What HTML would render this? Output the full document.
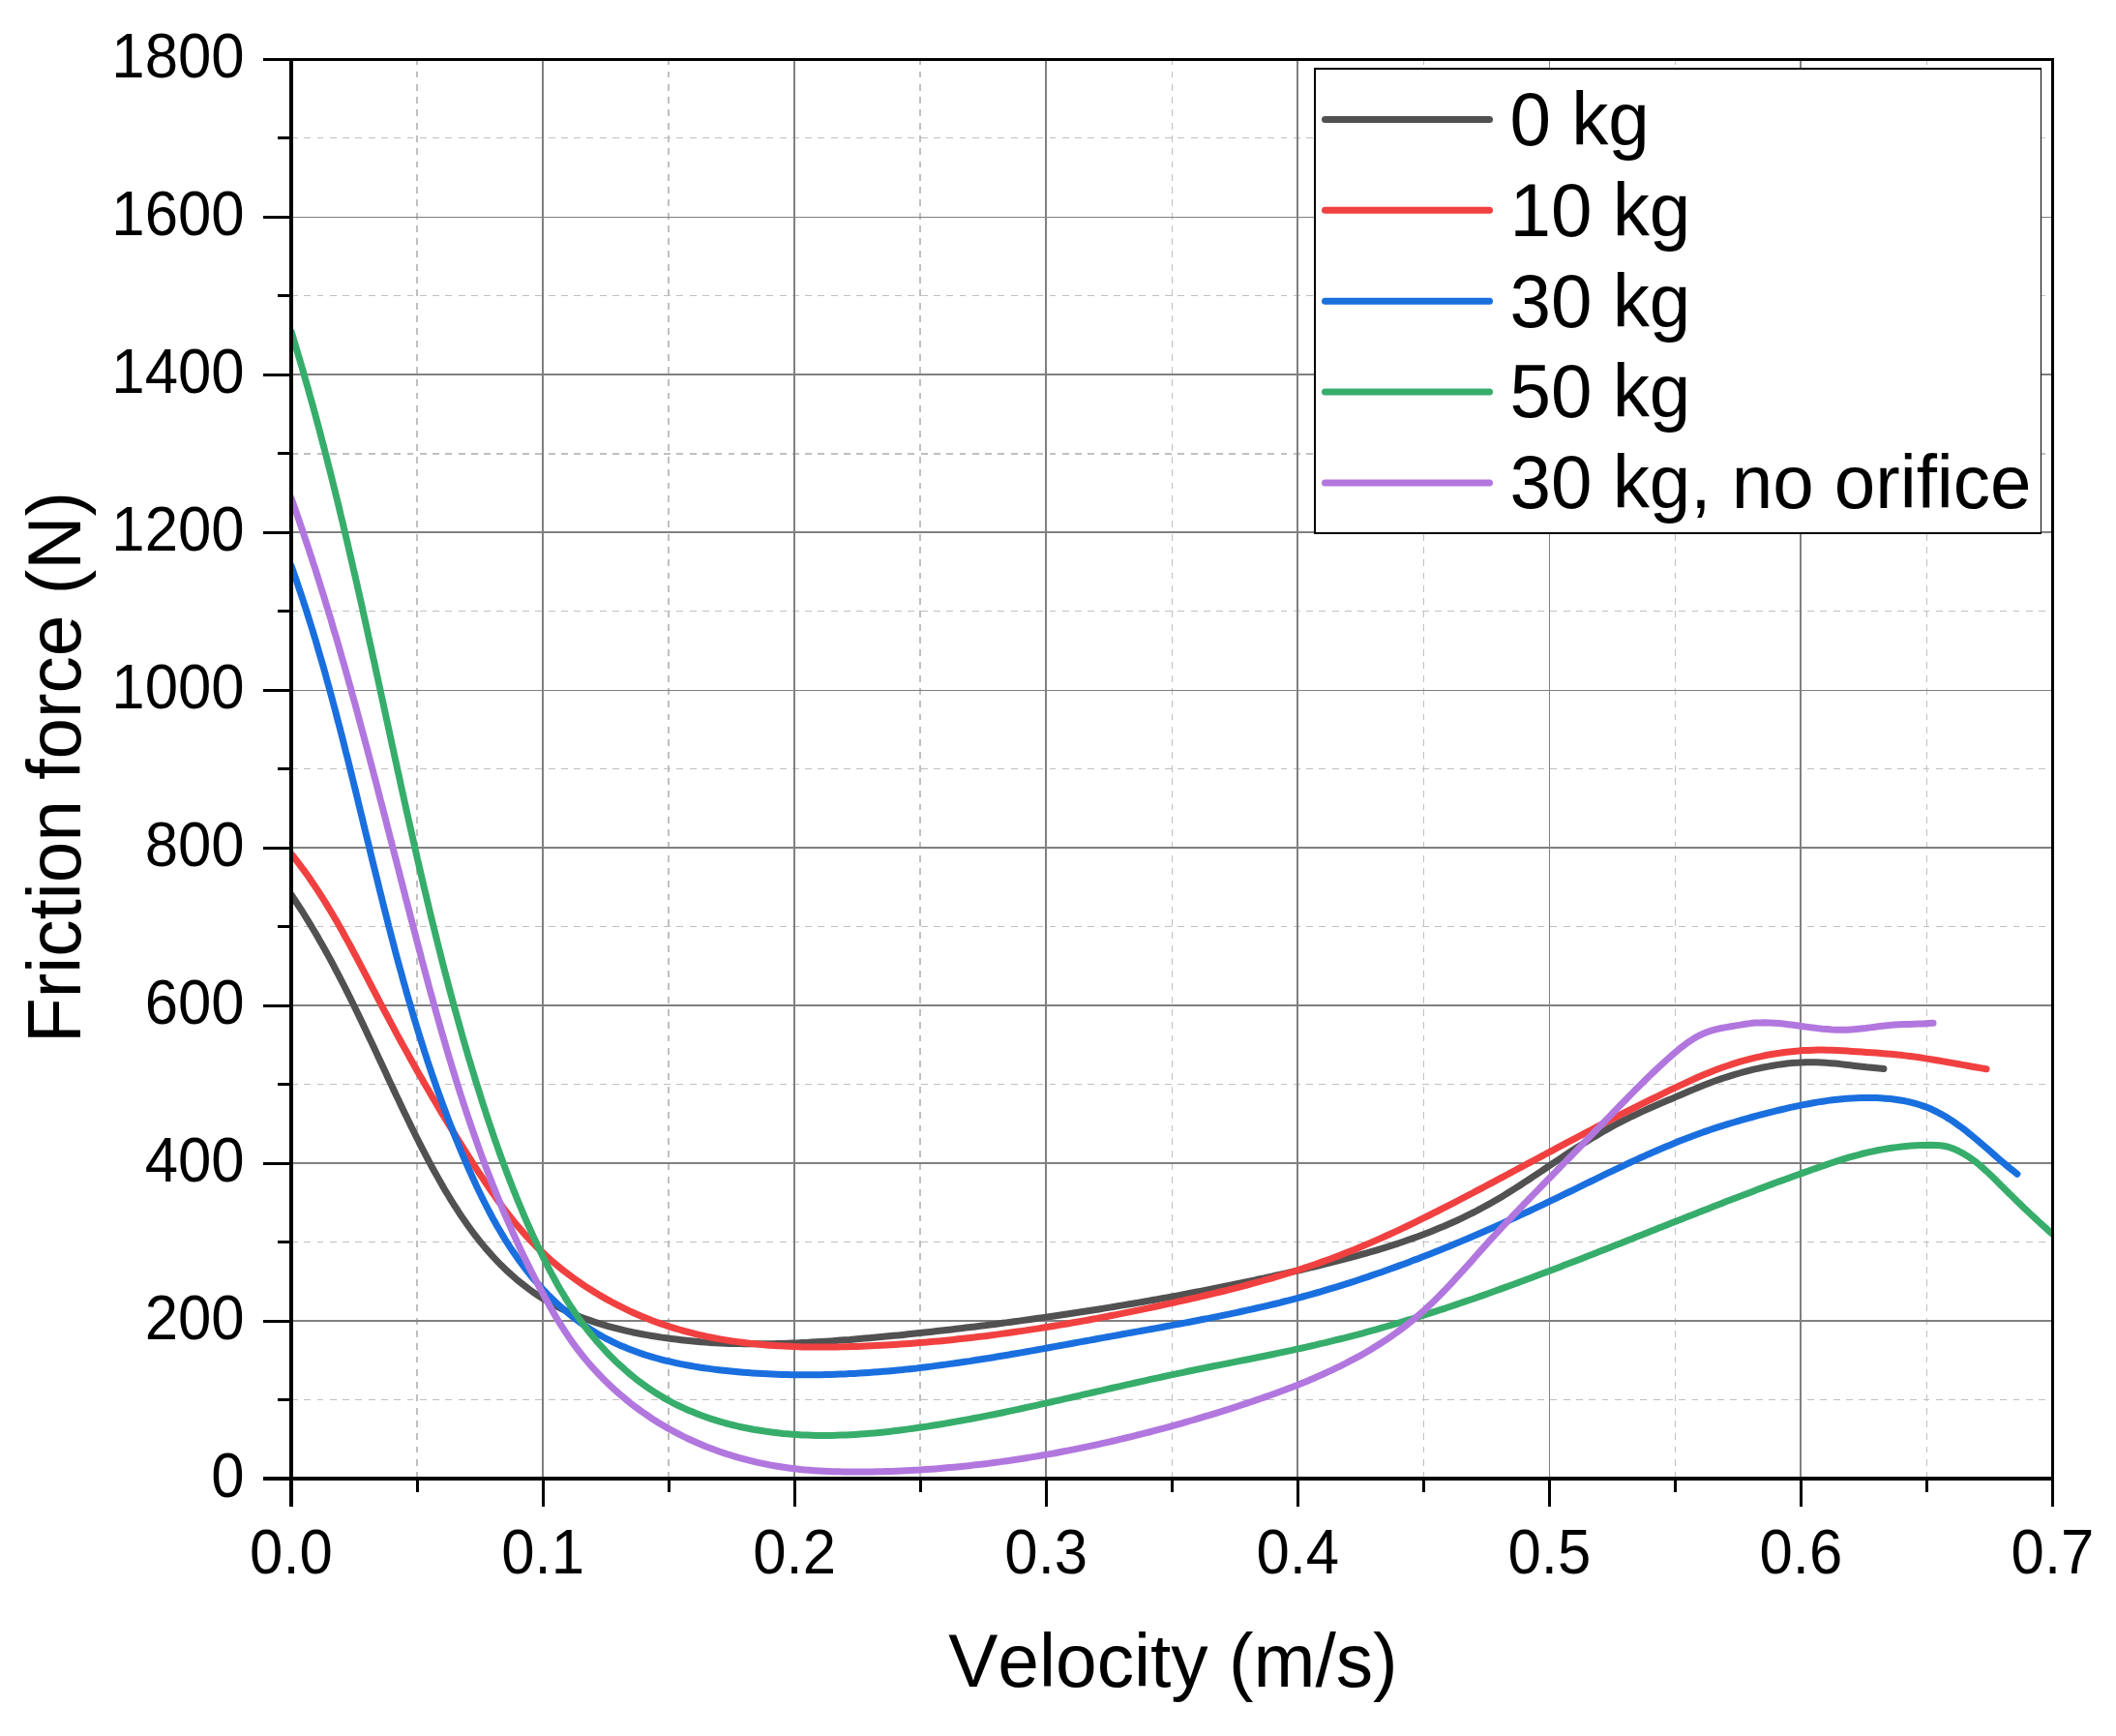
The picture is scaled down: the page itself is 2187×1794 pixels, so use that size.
<!DOCTYPE html>
<html lang="en"><head><meta charset="utf-8"><title>Friction force vs velocity</title>
<style>html,body{margin:0;padding:0;background:#fff;}body{width:2187px;height:1794px;overflow:hidden;}svg{display:block;}text{font-family:"Liberation Sans", sans-serif;fill:#000;font-kerning:none;font-variant-ligatures:none;}</style></head><body>
<svg width="2187" height="1794" viewBox="0 0 2187 1794">
<rect x="0" y="0" width="2187" height="1794" fill="#fff"/>
<g shape-rendering="crispEdges">
<line x1="431.0" y1="1528.0" x2="431.0" y2="61.5" stroke="#c0c0c0" stroke-width="2" stroke-dasharray="6.9 6.38"/>
<line x1="691.0" y1="1528.0" x2="691.0" y2="61.5" stroke="#c0c0c0" stroke-width="2" stroke-dasharray="6.9 6.38"/>
<line x1="951.0" y1="1528.0" x2="951.0" y2="61.5" stroke="#c0c0c0" stroke-width="2" stroke-dasharray="6.9 6.38"/>
<line x1="1211.5" y1="1528.0" x2="1211.5" y2="61.5" stroke="#c0c0c0" stroke-width="1" stroke-dasharray="6.9 6.38"/>
<line x1="1471.5" y1="1528.0" x2="1471.5" y2="61.5" stroke="#c0c0c0" stroke-width="1" stroke-dasharray="6.9 6.38"/>
<line x1="1731.5" y1="1528.0" x2="1731.5" y2="61.5" stroke="#c0c0c0" stroke-width="1" stroke-dasharray="6.9 6.38"/>
<line x1="1991.5" y1="1528.0" x2="1991.5" y2="61.5" stroke="#c0c0c0" stroke-width="1" stroke-dasharray="6.9 6.38"/>
<line x1="301.0" y1="1446.5" x2="2121.5" y2="1446.5" stroke="#c0c0c0" stroke-width="1" stroke-dasharray="6.9 6.38"/>
<line x1="301.0" y1="1283.5" x2="2121.5" y2="1283.5" stroke="#c0c0c0" stroke-width="1" stroke-dasharray="6.9 6.38"/>
<line x1="301.0" y1="1120.5" x2="2121.5" y2="1120.5" stroke="#c0c0c0" stroke-width="1" stroke-dasharray="6.9 6.38"/>
<line x1="301.0" y1="957.5" x2="2121.5" y2="957.5" stroke="#c0c0c0" stroke-width="1" stroke-dasharray="6.9 6.38"/>
<line x1="301.0" y1="794.5" x2="2121.5" y2="794.5" stroke="#c0c0c0" stroke-width="1" stroke-dasharray="6.9 6.38"/>
<line x1="301.0" y1="631.5" x2="2121.5" y2="631.5" stroke="#c0c0c0" stroke-width="1" stroke-dasharray="6.9 6.38"/>
<line x1="301.0" y1="469.0" x2="2121.5" y2="469.0" stroke="#c0c0c0" stroke-width="2" stroke-dasharray="6.9 6.38"/>
<line x1="301.0" y1="305.5" x2="2121.5" y2="305.5" stroke="#c0c0c0" stroke-width="1" stroke-dasharray="6.9 6.38"/>
<line x1="301.0" y1="142.5" x2="2121.5" y2="142.5" stroke="#c0c0c0" stroke-width="1" stroke-dasharray="6.9 6.38"/>
<line x1="561.0" y1="61.5" x2="561.0" y2="1528.0" stroke="#808080" stroke-width="2"/>
<line x1="821.0" y1="61.5" x2="821.0" y2="1528.0" stroke="#808080" stroke-width="2"/>
<line x1="1081.0" y1="61.5" x2="1081.0" y2="1528.0" stroke="#808080" stroke-width="2"/>
<line x1="1341.0" y1="61.5" x2="1341.0" y2="1528.0" stroke="#808080" stroke-width="2"/>
<line x1="1601.5" y1="61.5" x2="1601.5" y2="1528.0" stroke="#808080" stroke-width="1"/>
<line x1="1861.0" y1="61.5" x2="1861.0" y2="1528.0" stroke="#808080" stroke-width="2"/>
<line x1="301.0" y1="1365.0" x2="2121.5" y2="1365.0" stroke="#808080" stroke-width="2"/>
<line x1="301.0" y1="1202.0" x2="2121.5" y2="1202.0" stroke="#808080" stroke-width="2"/>
<line x1="301.0" y1="1039.0" x2="2121.5" y2="1039.0" stroke="#808080" stroke-width="2"/>
<line x1="301.0" y1="876.0" x2="2121.5" y2="876.0" stroke="#808080" stroke-width="2"/>
<line x1="301.0" y1="713.5" x2="2121.5" y2="713.5" stroke="#808080" stroke-width="1"/>
<line x1="301.0" y1="550.0" x2="2121.5" y2="550.0" stroke="#808080" stroke-width="2"/>
<line x1="301.0" y1="387.0" x2="2121.5" y2="387.0" stroke="#808080" stroke-width="2"/>
<line x1="301.0" y1="224.5" x2="2121.5" y2="224.5" stroke="#808080" stroke-width="1"/>
</g>
<clipPath id="plotclip"><rect x="301.0" y="61.5" width="1822.0" height="1466.5"/></clipPath>
<g clip-path="url(#plotclip)" fill="none" stroke-width="7" stroke-linecap="round" stroke-linejoin="round">
<path d="M301.0,924.5L303.8,928.7L306.6,933.0L309.4,937.2L312.2,941.5L314.8,945.8L317.5,950.1L320.1,954.4L322.7,958.7L325.3,963.0L327.8,967.3L330.3,971.7L332.8,976.0L335.3,980.4L337.7,984.8L340.1,989.1L342.5,993.5L344.8,997.9L347.1,1002.3L349.4,1006.7L351.7,1011.1L354.0,1015.5L356.3,1020.0L358.5,1024.4L360.7,1028.8L362.9,1033.3L365.1,1037.7L367.3,1042.2L369.4,1046.6L371.6,1051.1L373.7,1055.6L375.9,1060.1L378.0,1064.5L380.1,1069.0L382.2,1073.5L384.4,1078.0L386.5,1082.5L388.6,1087.0L390.7,1091.6L392.8,1096.1L394.9,1100.6L397.0,1105.1L399.1,1109.6L401.2,1114.2L403.3,1118.7L405.5,1123.2L407.6,1127.8L409.7,1132.3L411.9,1136.8L414.1,1141.4L416.2,1145.9L418.4,1150.5L420.6,1155.0L422.8,1159.6L425.0,1164.1L427.3,1168.7L429.5,1173.2L431.8,1177.8L434.1,1182.3L436.4,1186.8L438.8,1191.4L441.1,1195.9L443.5,1200.4L445.9,1205.0L448.4,1209.4L450.9,1213.9L453.4,1218.4L455.9,1222.8L458.4,1227.3L461.0,1231.7L463.7,1236.0L466.3,1240.4L469.0,1244.7L471.8,1248.9L474.5,1253.2L477.3,1257.4L480.2,1261.6L483.1,1265.7L486.0,1269.7L489.0,1273.8L492.1,1277.8L495.1,1281.7L498.3,1285.6L501.4,1289.4L504.7,1293.1L507.9,1296.8L511.3,1300.5L514.7,1304.1L518.1,1307.6L521.6,1311.0L525.2,1314.4L528.8,1317.7L532.5,1320.9L536.2,1324.1L540.0,1327.1L543.9,1330.1L547.8,1333.0L551.8,1335.8L555.8,1338.6L560.0,1341.2L564.2,1343.7L568.4,1346.2L572.8,1348.6L577.2,1350.8L581.6,1353.0L586.1,1355.1L590.7,1357.2L595.3,1359.1L600.0,1361.0L604.7,1362.7L609.4,1364.4L614.2,1366.1L619.0,1367.6L623.9,1369.1L628.8,1370.6L633.7,1371.9L638.7,1373.2L643.6,1374.4L648.6,1375.6L653.6,1376.7L658.7,1377.7L663.7,1378.7L668.7,1379.6L673.8,1380.5L678.8,1381.3L683.9,1382.1L688.9,1382.8L694.0,1383.5L699.0,1384.1L704.1,1384.7L709.1,1385.3L714.1,1385.8L719.1,1386.2L724.2,1386.7L729.2,1387.0L734.2,1387.4L739.2,1387.7L744.2,1387.9L749.2,1388.2L754.1,1388.4L759.1,1388.5L764.1,1388.6L769.1,1388.7L774.1,1388.8L779.0,1388.8L784.0,1388.8L789.0,1388.8L794.0,1388.7L798.9,1388.7L803.9,1388.5L808.9,1388.4L813.8,1388.2L818.8,1388.1L823.8,1387.9L828.7,1387.6L833.7,1387.4L838.7,1387.1L843.6,1386.8L848.6,1386.5L853.5,1386.2L858.5,1385.9L863.5,1385.5L868.5,1385.1L873.4,1384.7L878.4,1384.4L883.4,1383.9L888.4,1383.5L893.4,1383.1L898.3,1382.7L903.3,1382.2L908.3,1381.8L913.3,1381.3L918.3,1380.8L923.3,1380.3L928.3,1379.9L933.3,1379.4L938.3,1378.8L943.3,1378.3L948.3,1377.8L953.3,1377.3L958.3,1376.7L963.3,1376.2L968.3,1375.6L973.3,1375.1L978.3,1374.5L983.3,1373.9L988.3,1373.3L993.3,1372.7L998.3,1372.1L1003.3,1371.5L1008.3,1370.9L1013.3,1370.3L1018.2,1369.7L1023.2,1369.0L1028.2,1368.4L1033.2,1367.7L1038.2,1367.1L1043.1,1366.4L1048.1,1365.8L1053.1,1365.1L1058.0,1364.4L1063.0,1363.7L1068.0,1363.0L1072.9,1362.3L1077.9,1361.6L1082.9,1360.9L1087.8,1360.2L1092.8,1359.5L1097.7,1358.8L1102.7,1358.0L1107.6,1357.3L1112.6,1356.5L1117.5,1355.8L1122.5,1355.0L1127.4,1354.2L1132.3,1353.5L1137.3,1352.7L1142.2,1351.9L1147.1,1351.1L1152.1,1350.3L1157.0,1349.4L1161.9,1348.6L1166.9,1347.8L1171.8,1347.0L1176.7,1346.1L1181.7,1345.3L1186.6,1344.4L1191.5,1343.5L1196.4,1342.6L1201.3,1341.8L1206.3,1340.9L1211.2,1340.0L1216.1,1339.1L1221.0,1338.1L1225.9,1337.2L1230.8,1336.3L1235.8,1335.3L1240.7,1334.4L1245.6,1333.4L1250.5,1332.5L1255.4,1331.5L1260.3,1330.5L1265.2,1329.5L1270.1,1328.5L1275.0,1327.5L1279.9,1326.5L1284.8,1325.5L1289.7,1324.4L1294.6,1323.4L1299.5,1322.3L1304.5,1321.3L1309.4,1320.2L1314.3,1319.1L1319.2,1318.0L1324.1,1316.9L1329.0,1315.8L1333.9,1314.7L1338.8,1313.6L1343.7,1312.5L1348.6,1311.3L1353.5,1310.2L1358.4,1309.0L1363.2,1307.8L1368.1,1306.6L1373.0,1305.4L1377.9,1304.2L1382.8,1302.9L1387.7,1301.7L1392.5,1300.4L1397.4,1299.1L1402.2,1297.8L1407.1,1296.4L1411.9,1295.1L1416.8,1293.7L1421.6,1292.3L1426.4,1290.8L1431.2,1289.3L1436.0,1287.8L1440.7,1286.3L1445.5,1284.8L1450.2,1283.2L1455.0,1281.5L1459.7,1279.9L1464.4,1278.2L1469.1,1276.4L1473.7,1274.7L1478.4,1272.9L1483.0,1271.0L1487.7,1269.1L1492.3,1267.2L1496.8,1265.2L1501.4,1263.2L1505.9,1261.2L1510.4,1259.1L1514.9,1256.9L1519.4,1254.7L1523.9,1252.5L1528.3,1250.2L1532.7,1247.8L1537.1,1245.4L1541.4,1243.0L1545.7,1240.5L1550.1,1237.9L1554.3,1235.4L1558.6,1232.7L1562.9,1230.1L1567.1,1227.4L1571.3,1224.7L1575.5,1221.9L1579.7,1219.2L1583.9,1216.4L1588.1,1213.6L1592.3,1210.8L1596.5,1208.0L1600.7,1205.2L1604.8,1202.4L1609.0,1199.6L1613.2,1196.8L1617.4,1194.0L1621.6,1191.3L1625.8,1188.5L1630.0,1185.8L1634.3,1183.1L1638.5,1180.4L1642.8,1177.8L1647.1,1175.1L1651.4,1172.6L1655.7,1170.0L1660.0,1167.6L1664.4,1165.1L1668.8,1162.7L1673.2,1160.4L1677.7,1158.1L1682.2,1155.9L1686.6,1153.7L1691.2,1151.6L1695.7,1149.4L1700.2,1147.4L1704.8,1145.3L1709.4,1143.3L1714.0,1141.3L1718.6,1139.3L1723.2,1137.3L1727.8,1135.4L1732.4,1133.4L1737.0,1131.5L1741.6,1129.5L1746.2,1127.6L1750.9,1125.6L1755.5,1123.7L1760.1,1121.8L1764.8,1120.0L1769.4,1118.2L1774.1,1116.5L1778.9,1114.9L1783.6,1113.3L1788.4,1111.8L1793.1,1110.4L1798.0,1109.0L1802.8,1107.7L1807.7,1106.4L1812.5,1105.2L1817.4,1104.1L1822.4,1103.0L1827.3,1102.1L1832.2,1101.2L1837.2,1100.4L1842.2,1099.7L1847.2,1099.1L1852.2,1098.6L1857.1,1098.2L1862.1,1098.0L1867.1,1097.8L1872.1,1097.7L1877.1,1097.8L1882.1,1098.0L1887.1,1098.3L1892.1,1098.7L1897.1,1099.1L1902.1,1099.6L1907.0,1100.2L1912.0,1100.8L1917.0,1101.4L1922.0,1102.0L1927.0,1102.5L1931.9,1103.1L1936.9,1103.6L1941.9,1104.0L1946.9,1104.4" stroke="#515151"/>
<path d="M301.0,882.4L304.2,886.3L307.3,890.3L310.3,894.3L313.3,898.4L316.3,902.4L319.2,906.5L322.0,910.7L324.8,914.8L327.6,919.0L330.3,923.2L333.0,927.4L335.7,931.6L338.3,935.9L340.9,940.2L343.5,944.5L346.0,948.8L348.5,953.1L351.0,957.4L353.5,961.8L355.9,966.2L358.3,970.6L360.7,974.9L363.1,979.3L365.5,983.8L367.8,988.2L370.2,992.6L372.5,997.0L374.8,1001.5L377.1,1005.9L379.5,1010.4L381.8,1014.8L384.1,1019.3L386.4,1023.7L388.7,1028.1L391.0,1032.6L393.3,1037.0L395.7,1041.5L398.0,1045.9L400.4,1050.3L402.7,1054.7L405.1,1059.1L407.5,1063.6L409.8,1068.0L412.2,1072.4L414.6,1076.8L417.0,1081.1L419.5,1085.5L421.9,1089.9L424.3,1094.3L426.8,1098.7L429.2,1103.0L431.7,1107.4L434.2,1111.7L436.7,1116.1L439.2,1120.4L441.7,1124.8L444.2,1129.1L446.7,1133.4L449.3,1137.7L451.8,1142.1L454.4,1146.4L456.9,1150.7L459.5,1155.0L462.1,1159.3L464.7,1163.5L467.3,1167.8L469.9,1172.1L472.6,1176.4L475.2,1180.6L477.9,1184.9L480.5,1189.1L483.2,1193.4L485.9,1197.6L488.6,1201.9L491.3,1206.1L494.0,1210.3L496.8,1214.5L499.6,1218.7L502.3,1222.9L505.2,1227.0L508.0,1231.2L510.9,1235.3L513.8,1239.4L516.7,1243.4L519.7,1247.5L522.7,1251.5L525.7,1255.4L528.8,1259.4L531.9,1263.3L535.1,1267.1L538.4,1270.9L541.7,1274.7L545.0,1278.4L548.4,1282.0L551.9,1285.6L555.4,1289.2L559.0,1292.7L562.7,1296.1L566.4,1299.5L570.1,1302.8L574.0,1306.1L577.8,1309.3L581.7,1312.4L585.7,1315.5L589.7,1318.5L593.8,1321.5L597.9,1324.4L602.1,1327.3L606.3,1330.1L610.5,1332.8L614.8,1335.5L619.1,1338.1L623.5,1340.6L627.9,1343.1L632.3,1345.5L636.8,1347.9L641.3,1350.2L645.8,1352.4L650.3,1354.6L654.9,1356.7L659.5,1358.7L664.2,1360.7L668.8,1362.6L673.5,1364.4L678.2,1366.2L682.9,1367.9L687.7,1369.5L692.4,1371.1L697.2,1372.6L702.0,1374.0L706.8,1375.4L711.6,1376.7L716.4,1377.9L721.2,1379.1L726.1,1380.2L731.0,1381.3L735.8,1382.3L740.7,1383.2L745.6,1384.1L750.5,1384.9L755.4,1385.7L760.4,1386.4L765.3,1387.1L770.3,1387.7L775.2,1388.3L780.2,1388.8L785.1,1389.3L790.1,1389.8L795.1,1390.2L800.1,1390.5L805.1,1390.8L810.1,1391.1L815.1,1391.3L820.1,1391.6L825.1,1391.7L830.1,1391.9L835.2,1392.0L840.2,1392.0L845.2,1392.1L850.2,1392.1L855.2,1392.0L860.3,1392.0L865.3,1391.9L870.3,1391.8L875.3,1391.7L880.4,1391.6L885.4,1391.4L890.4,1391.2L895.4,1391.0L900.4,1390.8L905.5,1390.6L910.5,1390.3L915.5,1390.0L920.5,1389.7L925.5,1389.4L930.5,1389.1L935.5,1388.8L940.5,1388.4L945.5,1388.0L950.5,1387.6L955.5,1387.2L960.5,1386.8L965.5,1386.3L970.4,1385.9L975.4,1385.4L980.4,1384.9L985.4,1384.4L990.4,1383.8L995.3,1383.3L1000.3,1382.7L1005.3,1382.2L1010.3,1381.6L1015.2,1381.0L1020.2,1380.4L1025.2,1379.7L1030.1,1379.1L1035.1,1378.4L1040.0,1377.7L1045.0,1377.0L1050.0,1376.3L1054.9,1375.6L1059.9,1374.9L1064.8,1374.1L1069.8,1373.4L1074.7,1372.6L1079.6,1371.8L1084.6,1371.0L1089.5,1370.2L1094.5,1369.4L1099.4,1368.5L1104.3,1367.7L1109.3,1366.8L1114.2,1366.0L1119.1,1365.1L1124.1,1364.2L1129.0,1363.3L1133.9,1362.4L1138.8,1361.4L1143.8,1360.5L1148.7,1359.5L1153.6,1358.6L1158.5,1357.6L1163.4,1356.6L1168.3,1355.6L1173.3,1354.6L1178.2,1353.6L1183.1,1352.6L1188.0,1351.6L1192.9,1350.5L1197.8,1349.5L1202.7,1348.4L1207.6,1347.4L1212.5,1346.3L1217.4,1345.2L1222.3,1344.1L1227.2,1343.0L1232.1,1341.9L1236.9,1340.8L1241.8,1339.6L1246.7,1338.5L1251.6,1337.3L1256.5,1336.2L1261.3,1335.0L1266.2,1333.8L1271.0,1332.6L1275.9,1331.3L1280.8,1330.1L1285.6,1328.8L1290.4,1327.5L1295.3,1326.2L1300.1,1324.9L1304.9,1323.5L1309.7,1322.2L1314.5,1320.8L1319.3,1319.4L1324.1,1317.9L1328.9,1316.5L1333.7,1315.0L1338.5,1313.5L1343.2,1312.0L1348.0,1310.4L1352.7,1308.8L1357.4,1307.2L1362.2,1305.6L1366.9,1303.9L1371.6,1302.2L1376.3,1300.5L1380.9,1298.7L1385.6,1296.9L1390.3,1295.1L1394.9,1293.3L1399.6,1291.4L1404.2,1289.5L1408.8,1287.6L1413.4,1285.6L1418.0,1283.6L1422.6,1281.6L1427.2,1279.6L1431.8,1277.5L1436.3,1275.5L1440.9,1273.4L1445.4,1271.3L1450.0,1269.1L1454.5,1267.0L1459.0,1264.8L1463.5,1262.6L1468.0,1260.4L1472.5,1258.2L1477.0,1256.0L1481.5,1253.7L1486.0,1251.5L1490.5,1249.2L1495.0,1246.9L1499.4,1244.6L1503.9,1242.3L1508.3,1240.0L1512.8,1237.7L1517.2,1235.3L1521.7,1233.0L1526.1,1230.7L1530.6,1228.3L1535.0,1226.0L1539.4,1223.6L1543.8,1221.3L1548.3,1218.9L1552.7,1216.6L1557.1,1214.2L1561.5,1211.9L1565.9,1209.5L1570.3,1207.1L1574.8,1204.8L1579.2,1202.4L1583.6,1200.1L1588.0,1197.7L1592.4,1195.4L1596.8,1193.0L1601.2,1190.6L1605.6,1188.3L1610.0,1185.9L1614.4,1183.6L1618.9,1181.2L1623.3,1178.9L1627.7,1176.6L1632.1,1174.2L1636.5,1171.9L1640.9,1169.6L1645.4,1167.3L1649.8,1164.9L1654.2,1162.6L1658.7,1160.3L1663.1,1158.0L1667.5,1155.8L1672.0,1153.5L1676.4,1151.2L1680.9,1148.9L1685.4,1146.7L1689.8,1144.4L1694.3,1142.2L1698.8,1139.9L1703.3,1137.7L1707.8,1135.5L1712.3,1133.3L1716.8,1131.1L1721.3,1128.9L1725.8,1126.7L1730.3,1124.6L1734.9,1122.4L1739.4,1120.3L1744.0,1118.2L1748.5,1116.1L1753.1,1114.0L1757.7,1112.0L1762.4,1110.1L1767.0,1108.2L1771.7,1106.3L1776.3,1104.5L1781.1,1102.8L1785.8,1101.2L1790.5,1099.6L1795.3,1098.1L1800.1,1096.7L1804.9,1095.4L1809.8,1094.1L1814.6,1092.9L1819.5,1091.8L1824.4,1090.8L1829.3,1089.8L1834.3,1089.0L1839.2,1088.2L1844.1,1087.5L1849.1,1086.9L1854.1,1086.4L1859.0,1086.0L1864.0,1085.6L1869.0,1085.4L1874.0,1085.2L1879.0,1085.1L1884.0,1085.1L1889.1,1085.2L1894.1,1085.3L1899.1,1085.5L1904.1,1085.8L1909.1,1086.1L1914.1,1086.4L1919.1,1086.7L1924.1,1087.0L1929.2,1087.4L1934.2,1087.7L1939.2,1088.1L1944.2,1088.5L1949.1,1088.9L1954.1,1089.3L1959.1,1089.8L1964.1,1090.3L1969.0,1090.9L1974.0,1091.5L1979.0,1092.1L1983.9,1092.8L1988.8,1093.6L1993.8,1094.4L1998.7,1095.2L2003.7,1096.0L2008.6,1096.9L2013.5,1097.8L2018.5,1098.6L2023.4,1099.5L2028.3,1100.4L2033.2,1101.3L2038.2,1102.2L2043.1,1103.0L2048.1,1103.9L2053.0,1104.7" stroke="#F14040"/>
<path d="M301.0,584.7L302.7,589.4L304.3,594.1L306.0,598.9L307.6,603.6L309.2,608.4L310.8,613.1L312.4,617.8L313.9,622.6L315.5,627.4L317.0,632.1L318.5,636.9L320.0,641.7L321.5,646.5L323.0,651.2L324.4,656.0L325.9,660.8L327.3,665.6L328.7,670.4L330.1,675.2L331.5,680.0L332.9,684.8L334.3,689.6L335.7,694.5L337.0,699.3L338.3,704.1L339.7,708.9L341.0,713.8L342.3,718.6L343.6,723.4L344.9,728.3L346.2,733.1L347.5,738.0L348.7,742.8L350.0,747.6L351.3,752.5L352.5,757.3L353.8,762.2L355.0,767.1L356.2,771.9L357.4,776.8L358.7,781.6L359.9,786.5L361.1,791.4L362.3,796.2L363.5,801.1L364.7,806.0L365.9,810.8L367.1,815.7L368.3,820.6L369.5,825.4L370.6,830.3L371.8,835.2L373.0,840.0L374.2,844.9L375.4,849.8L376.5,854.7L377.7,859.5L378.9,864.4L380.1,869.3L381.3,874.1L382.4,879.0L383.6,883.9L384.8,888.8L386.0,893.6L387.2,898.5L388.4,903.4L389.6,908.2L390.8,913.1L392.0,918.0L393.2,922.8L394.4,927.7L395.6,932.5L396.8,937.4L398.0,942.2L399.3,947.1L400.5,951.9L401.7,956.8L403.0,961.6L404.2,966.5L405.5,971.3L406.8,976.2L408.0,981.0L409.3,985.8L410.6,990.7L411.9,995.5L413.2,1000.3L414.6,1005.1L415.9,1010.0L417.2,1014.8L418.6,1019.6L419.9,1024.4L421.3,1029.2L422.7,1034.0L424.1,1038.8L425.5,1043.6L426.9,1048.4L428.3,1053.2L429.8,1058.0L431.2,1062.7L432.7,1067.5L434.2,1072.3L435.7,1077.1L437.2,1081.8L438.7,1086.6L440.3,1091.3L441.8,1096.1L443.4,1100.8L445.0,1105.6L446.6,1110.3L448.2,1115.0L449.9,1119.8L451.5,1124.5L453.2,1129.2L454.9,1133.9L456.6,1138.6L458.3,1143.3L460.1,1148.0L461.8,1152.7L463.6,1157.4L465.4,1162.1L467.3,1166.7L469.1,1171.4L471.0,1176.1L472.9,1180.7L474.8,1185.4L476.7,1190.0L478.7,1194.7L480.7,1199.3L482.7,1203.9L484.7,1208.5L486.8,1213.1L488.9,1217.7L491.0,1222.3L493.1,1226.9L495.3,1231.5L497.5,1236.0L499.7,1240.5L502.0,1245.0L504.3,1249.5L506.7,1254.0L509.0,1258.4L511.5,1262.8L513.9,1267.2L516.5,1271.5L519.0,1275.8L521.6,1280.1L524.3,1284.3L527.0,1288.6L529.8,1292.7L532.6,1296.8L535.4,1300.9L538.4,1305.0L541.4,1309.0L544.4,1312.9L547.5,1316.8L550.7,1320.7L553.9,1324.5L557.2,1328.2L560.5,1331.9L564.0,1335.5L567.4,1339.1L571.0,1342.6L574.6,1346.0L578.3,1349.4L582.1,1352.7L585.9,1355.9L589.7,1359.1L593.7,1362.2L597.7,1365.2L601.7,1368.1L605.8,1370.9L610.0,1373.7L614.2,1376.3L618.5,1378.9L622.8,1381.3L627.2,1383.7L631.6,1385.9L636.1,1388.1L640.6,1390.2L645.2,1392.1L649.8,1394.0L654.5,1395.8L659.2,1397.5L663.9,1399.1L668.6,1400.7L673.4,1402.1L678.3,1403.5L683.1,1404.8L688.0,1406.1L692.9,1407.2L697.9,1408.3L702.8,1409.4L707.8,1410.4L712.8,1411.3L717.8,1412.1L722.8,1413.0L727.8,1413.7L732.8,1414.4L737.9,1415.1L742.9,1415.7L747.9,1416.3L753.0,1416.8L758.0,1417.3L763.0,1417.8L768.1,1418.2L773.1,1418.6L778.1,1419.0L783.2,1419.3L788.2,1419.6L793.2,1419.8L798.2,1420.1L803.2,1420.3L808.2,1420.4L813.2,1420.6L818.3,1420.7L823.3,1420.7L828.3,1420.8L833.2,1420.8L838.2,1420.8L843.2,1420.7L848.2,1420.7L853.2,1420.6L858.2,1420.4L863.2,1420.3L868.2,1420.1L873.1,1419.9L878.1,1419.6L883.1,1419.4L888.1,1419.1L893.0,1418.8L898.0,1418.4L903.0,1418.1L908.0,1417.7L912.9,1417.3L917.9,1416.9L922.9,1416.4L927.8,1415.9L932.8,1415.5L937.7,1414.9L942.7,1414.4L947.7,1413.9L952.6,1413.3L957.6,1412.7L962.5,1412.1L967.5,1411.4L972.4,1410.8L977.4,1410.1L982.4,1409.4L987.3,1408.7L992.3,1408.0L997.2,1407.3L1002.2,1406.6L1007.1,1405.8L1012.1,1405.0L1017.0,1404.2L1022.0,1403.5L1026.9,1402.7L1031.8,1401.8L1036.8,1401.0L1041.7,1400.2L1046.7,1399.3L1051.6,1398.5L1056.6,1397.6L1061.5,1396.8L1066.5,1395.9L1071.4,1395.0L1076.3,1394.1L1081.3,1393.2L1086.2,1392.3L1091.2,1391.4L1096.1,1390.5L1101.1,1389.6L1106.0,1388.7L1110.9,1387.8L1115.9,1386.9L1120.8,1386.0L1125.8,1385.1L1130.7,1384.2L1135.6,1383.3L1140.6,1382.4L1145.5,1381.5L1150.5,1380.6L1155.4,1379.7L1160.3,1378.8L1165.3,1377.9L1170.2,1377.0L1175.2,1376.1L1180.1,1375.2L1185.0,1374.4L1190.0,1373.5L1194.9,1372.6L1199.8,1371.7L1204.8,1370.8L1209.7,1369.9L1214.6,1368.9L1219.6,1368.0L1224.5,1367.1L1229.4,1366.2L1234.3,1365.2L1239.2,1364.3L1244.1,1363.3L1249.1,1362.4L1254.0,1361.4L1258.9,1360.4L1263.8,1359.4L1268.7,1358.4L1273.6,1357.4L1278.5,1356.3L1283.3,1355.3L1288.2,1354.2L1293.1,1353.1L1298.0,1352.0L1302.8,1350.9L1307.7,1349.8L1312.6,1348.6L1317.4,1347.5L1322.3,1346.3L1327.1,1345.0L1332.0,1343.8L1336.8,1342.6L1341.6,1341.3L1346.4,1340.0L1351.3,1338.7L1356.1,1337.3L1360.9,1336.0L1365.7,1334.6L1370.5,1333.2L1375.3,1331.7L1380.0,1330.3L1384.8,1328.8L1389.6,1327.3L1394.3,1325.8L1399.1,1324.3L1403.9,1322.7L1408.6,1321.2L1413.4,1319.6L1418.1,1317.9L1422.8,1316.3L1427.6,1314.7L1432.3,1313.0L1437.0,1311.3L1441.7,1309.6L1446.4,1307.9L1451.1,1306.2L1455.8,1304.4L1460.5,1302.6L1465.2,1300.9L1469.8,1299.0L1474.5,1297.2L1479.2,1295.4L1483.9,1293.5L1488.5,1291.7L1493.2,1289.8L1497.8,1287.9L1502.4,1286.0L1507.1,1284.1L1511.7,1282.1L1516.3,1280.2L1521.0,1278.2L1525.6,1276.2L1530.2,1274.2L1534.8,1272.2L1539.4,1270.2L1544.0,1268.2L1548.6,1266.1L1553.2,1264.1L1557.7,1262.0L1562.3,1259.9L1566.9,1257.8L1571.4,1255.7L1576.0,1253.6L1580.6,1251.5L1585.1,1249.4L1589.7,1247.2L1594.2,1245.1L1598.7,1242.9L1603.3,1240.7L1607.8,1238.6L1612.3,1236.4L1616.8,1234.2L1621.3,1232.0L1625.9,1229.8L1630.4,1227.6L1634.9,1225.4L1639.4,1223.2L1643.9,1221.0L1648.4,1218.8L1652.9,1216.6L1657.4,1214.4L1661.9,1212.2L1666.4,1210.1L1671.0,1207.9L1675.5,1205.8L1680.0,1203.6L1684.5,1201.5L1689.1,1199.4L1693.6,1197.3L1698.2,1195.3L1702.7,1193.2L1707.3,1191.2L1711.9,1189.2L1716.5,1187.2L1721.1,1185.3L1725.7,1183.4L1730.3,1181.5L1734.9,1179.6L1739.5,1177.8L1744.2,1176.0L1748.8,1174.2L1753.5,1172.5L1758.2,1170.8L1762.9,1169.1L1767.6,1167.5L1772.3,1165.9L1777.1,1164.4L1781.9,1162.9L1786.6,1161.4L1791.4,1160.0L1796.2,1158.6L1801.0,1157.2L1805.8,1155.8L1810.7,1154.5L1815.5,1153.2L1820.3,1151.9L1825.2,1150.6L1830.1,1149.4L1834.9,1148.2L1839.8,1147.0L1844.7,1145.8L1849.6,1144.7L1854.5,1143.6L1859.4,1142.6L1864.3,1141.6L1869.2,1140.7L1874.2,1139.8L1879.1,1138.9L1884.0,1138.2L1889.0,1137.4L1893.9,1136.8L1898.9,1136.2L1903.8,1135.7L1908.8,1135.3L1913.8,1134.9L1918.8,1134.7L1923.8,1134.5L1928.8,1134.4L1933.8,1134.5L1938.8,1134.6L1943.8,1134.8L1948.9,1135.2L1953.9,1135.6L1958.9,1136.2L1963.9,1137.0L1968.9,1137.8L1973.8,1138.9L1978.6,1140.1L1983.4,1141.5L1988.2,1143.1L1992.8,1144.8L1997.4,1146.8L2001.9,1149.0L2006.2,1151.3L2010.6,1153.8L2014.8,1156.4L2019.0,1159.2L2023.1,1162.1L2027.2,1165.0L2031.2,1168.1L2035.1,1171.2L2039.0,1174.4L2042.9,1177.6L2046.7,1180.9L2050.5,1184.1L2054.3,1187.4L2058.0,1190.7L2061.8,1194.0L2065.6,1197.3L2069.4,1200.6L2073.2,1203.8L2077.0,1207.0L2080.9,1210.1L2084.9,1213.2" stroke="#1A6FDF"/>
<path d="M301.0,342.6L302.5,347.4L303.9,352.2L305.4,357.0L306.8,361.8L308.2,366.6L309.7,371.4L311.1,376.2L312.5,381.0L313.9,385.8L315.2,390.6L316.6,395.4L318.0,400.2L319.3,405.1L320.7,409.9L322.0,414.7L323.4,419.5L324.7,424.3L326.0,429.2L327.3,434.0L328.6,438.8L329.9,443.7L331.2,448.5L332.4,453.3L333.7,458.2L335.0,463.0L336.2,467.9L337.5,472.7L338.7,477.6L339.9,482.4L341.2,487.3L342.4,492.1L343.6,497.0L344.8,501.8L346.0,506.7L347.2,511.5L348.4,516.4L349.6,521.2L350.8,526.1L351.9,531.0L353.1,535.8L354.3,540.7L355.4,545.6L356.6,550.4L357.7,555.3L358.9,560.2L360.0,565.0L361.1,569.9L362.3,574.8L363.4,579.7L364.5,584.5L365.6,589.4L366.8,594.3L367.9,599.2L369.0,604.0L370.1,608.9L371.2,613.8L372.3,618.7L373.4,623.6L374.5,628.4L375.5,633.3L376.6,638.2L377.7,643.1L378.8,648.0L379.9,652.9L380.9,657.8L382.0,662.6L383.1,667.5L384.2,672.4L385.2,677.3L386.3,682.2L387.4,687.1L388.4,692.0L389.5,696.9L390.6,701.8L391.6,706.6L392.7,711.5L393.7,716.4L394.8,721.3L395.9,726.2L396.9,731.1L398.0,736.0L399.0,740.9L400.1,745.8L401.2,750.7L402.2,755.5L403.3,760.4L404.3,765.3L405.4,770.2L406.5,775.1L407.5,780.0L408.6,784.9L409.7,789.8L410.7,794.7L411.8,799.6L412.9,804.4L413.9,809.3L415.0,814.2L416.1,819.1L417.2,824.0L418.2,828.9L419.3,833.8L420.4,838.7L421.5,843.5L422.6,848.4L423.7,853.3L424.8,858.2L425.9,863.1L427.0,867.9L428.1,872.8L429.2,877.7L430.3,882.6L431.4,887.5L432.6,892.3L433.7,897.2L434.8,902.1L436.0,907.0L437.1,911.8L438.2,916.7L439.4,921.6L440.6,926.4L441.7,931.3L442.9,936.2L444.0,941.0L445.2,945.9L446.4,950.8L447.6,955.6L448.8,960.5L450.0,965.3L451.2,970.2L452.4,975.0L453.6,979.9L454.9,984.7L456.1,989.6L457.3,994.4L458.6,999.3L459.8,1004.1L461.1,1009.0L462.4,1013.8L463.6,1018.6L464.9,1023.5L466.2,1028.3L467.5,1033.1L468.8,1037.9L470.1,1042.8L471.5,1047.6L472.8,1052.4L474.2,1057.2L475.5,1062.0L476.9,1066.9L478.2,1071.7L479.6,1076.5L481.0,1081.3L482.4,1086.1L483.8,1090.9L485.2,1095.7L486.7,1100.5L488.1,1105.2L489.6,1110.0L491.0,1114.8L492.5,1119.6L494.0,1124.4L495.5,1129.1L497.0,1133.9L498.5,1138.7L500.0,1143.4L501.6,1148.2L503.1,1153.0L504.7,1157.7L506.3,1162.5L507.9,1167.2L509.5,1171.9L511.1,1176.7L512.8,1181.4L514.5,1186.1L516.1,1190.8L517.8,1195.5L519.6,1200.2L521.3,1204.9L523.0,1209.6L524.8,1214.3L526.6,1219.0L528.4,1223.6L530.2,1228.3L532.1,1232.9L533.9,1237.6L535.8,1242.2L537.8,1246.8L539.7,1251.5L541.6,1256.1L543.6,1260.7L545.6,1265.3L547.7,1269.8L549.7,1274.4L551.8,1279.0L553.9,1283.5L556.0,1288.1L558.2,1292.6L560.4,1297.1L562.6,1301.6L564.8,1306.1L567.1,1310.6L569.4,1315.0L571.8,1319.4L574.2,1323.8L576.6,1328.2L579.1,1332.5L581.7,1336.8L584.3,1341.1L586.9,1345.4L589.6,1349.6L592.4,1353.8L595.2,1357.9L598.0,1362.0L601.0,1366.1L604.0,1370.1L607.0,1374.1L610.1,1378.0L613.3,1381.9L616.5,1385.7L619.8,1389.5L623.2,1393.2L626.6,1396.9L630.0,1400.5L633.6,1404.0L637.1,1407.5L640.8,1410.9L644.5,1414.2L648.2,1417.5L652.0,1420.7L655.9,1423.9L659.8,1426.9L663.8,1429.9L667.9,1432.8L671.9,1435.6L676.1,1438.4L680.3,1441.0L684.5,1443.6L688.9,1446.1L693.2,1448.5L697.6,1450.8L702.1,1453.0L706.6,1455.1L711.2,1457.2L715.8,1459.1L720.5,1461.0L725.1,1462.8L729.9,1464.5L734.6,1466.1L739.4,1467.6L744.3,1469.1L749.1,1470.5L754.0,1471.8L758.9,1473.0L763.8,1474.2L768.8,1475.2L773.8,1476.2L778.7,1477.2L783.7,1478.0L788.8,1478.8L793.8,1479.6L798.8,1480.2L803.8,1480.8L808.9,1481.4L813.9,1481.8L818.9,1482.2L824.0,1482.6L829.0,1482.9L834.0,1483.1L839.0,1483.2L844.0,1483.4L849.0,1483.4L854.0,1483.4L859.0,1483.4L864.0,1483.3L869.0,1483.1L874.0,1482.9L879.0,1482.7L884.0,1482.4L888.9,1482.1L893.9,1481.7L898.9,1481.3L903.8,1480.9L908.8,1480.4L913.8,1479.9L918.7,1479.4L923.7,1478.8L928.6,1478.2L933.6,1477.6L938.5,1476.9L943.4,1476.2L948.4,1475.5L953.3,1474.8L958.2,1474.1L963.1,1473.3L968.1,1472.5L973.0,1471.7L977.9,1470.9L982.8,1470.0L987.7,1469.1L992.6,1468.3L997.5,1467.4L1002.5,1466.5L1007.4,1465.5L1012.3,1464.6L1017.2,1463.6L1022.1,1462.6L1027.0,1461.7L1031.8,1460.7L1036.7,1459.7L1041.6,1458.6L1046.5,1457.6L1051.4,1456.6L1056.3,1455.5L1061.2,1454.4L1066.1,1453.4L1071.0,1452.3L1075.9,1451.2L1080.7,1450.1L1085.6,1449.0L1090.5,1447.9L1095.4,1446.8L1100.3,1445.7L1105.2,1444.6L1110.0,1443.5L1114.9,1442.4L1119.8,1441.2L1124.7,1440.1L1129.6,1439.0L1134.5,1437.9L1139.3,1436.8L1144.2,1435.6L1149.1,1434.5L1154.0,1433.4L1158.9,1432.3L1163.8,1431.2L1168.7,1430.1L1173.6,1429.0L1178.5,1427.9L1183.3,1426.8L1188.2,1425.7L1193.1,1424.6L1198.0,1423.6L1202.9,1422.5L1207.8,1421.4L1212.7,1420.4L1217.6,1419.4L1222.6,1418.3L1227.5,1417.3L1232.4,1416.3L1237.3,1415.3L1242.2,1414.3L1247.1,1413.3L1252.0,1412.3L1256.9,1411.3L1261.8,1410.4L1266.7,1409.4L1271.7,1408.4L1276.6,1407.4L1281.5,1406.4L1286.4,1405.5L1291.3,1404.5L1296.2,1403.5L1301.1,1402.5L1306.0,1401.5L1310.9,1400.5L1315.8,1399.5L1320.7,1398.4L1325.6,1397.4L1330.5,1396.4L1335.4,1395.3L1340.3,1394.2L1345.1,1393.2L1350.0,1392.1L1354.9,1391.0L1359.8,1389.9L1364.6,1388.7L1369.5,1387.6L1374.3,1386.4L1379.2,1385.2L1384.0,1384.0L1388.9,1382.8L1393.7,1381.6L1398.5,1380.3L1403.4,1379.1L1408.2,1377.8L1413.0,1376.4L1417.8,1375.1L1422.6,1373.8L1427.4,1372.4L1432.2,1371.0L1437.0,1369.6L1441.8,1368.2L1446.6,1366.8L1451.3,1365.4L1456.1,1363.9L1460.9,1362.5L1465.7,1361.0L1470.4,1359.5L1475.2,1358.0L1479.9,1356.4L1484.7,1354.9L1489.4,1353.3L1494.2,1351.8L1498.9,1350.2L1503.7,1348.6L1508.4,1347.0L1513.1,1345.4L1517.9,1343.8L1522.6,1342.2L1527.3,1340.5L1532.0,1338.9L1536.7,1337.2L1541.5,1335.5L1546.2,1333.8L1550.9,1332.1L1555.6,1330.4L1560.3,1328.7L1565.0,1327.0L1569.7,1325.3L1574.4,1323.5L1579.1,1321.8L1583.8,1320.0L1588.4,1318.3L1593.1,1316.5L1597.8,1314.7L1602.5,1313.0L1607.2,1311.2L1611.9,1309.4L1616.5,1307.6L1621.2,1305.8L1625.9,1304.0L1630.6,1302.2L1635.2,1300.4L1639.9,1298.5L1644.6,1296.7L1649.2,1294.9L1653.9,1293.1L1658.6,1291.2L1663.2,1289.4L1667.9,1287.6L1672.6,1285.7L1677.2,1283.9L1681.9,1282.0L1686.6,1280.2L1691.2,1278.3L1695.9,1276.5L1700.5,1274.7L1705.2,1272.8L1709.9,1271.0L1714.5,1269.1L1719.2,1267.3L1723.8,1265.4L1728.5,1263.6L1733.1,1261.7L1737.8,1259.9L1742.5,1258.1L1747.1,1256.2L1751.8,1254.4L1756.4,1252.6L1761.1,1250.7L1765.8,1248.9L1770.4,1247.1L1775.1,1245.3L1779.8,1243.4L1784.4,1241.6L1789.1,1239.8L1793.8,1238.0L1798.4,1236.2L1803.1,1234.5L1807.8,1232.7L1812.4,1230.9L1817.1,1229.1L1821.8,1227.4L1826.5,1225.6L1831.1,1223.9L1835.8,1222.1L1840.5,1220.4L1845.2,1218.7L1849.9,1217.0L1854.6,1215.2L1859.3,1213.6L1864.0,1211.9L1868.7,1210.2L1873.4,1208.5L1878.2,1206.9L1882.9,1205.2L1887.6,1203.6L1892.4,1202.0L1897.1,1200.4L1901.9,1198.9L1906.7,1197.4L1911.5,1195.9L1916.3,1194.6L1921.1,1193.3L1925.9,1192.0L1930.8,1190.9L1935.7,1189.8L1940.6,1188.8L1945.5,1187.9L1950.4,1187.0L1955.4,1186.3L1960.4,1185.6L1965.3,1185.0L1970.3,1184.6L1975.3,1184.1L1980.3,1183.8L1985.3,1183.6L1990.4,1183.4L1995.4,1183.3L2000.4,1183.4L2005.4,1183.8L2010.3,1184.5L2015.1,1185.7L2019.8,1187.4L2024.3,1189.5L2028.7,1191.8L2033.0,1194.4L2037.1,1197.2L2041.2,1200.1L2045.1,1203.2L2048.9,1206.5L2052.6,1209.8L2056.3,1213.3L2060.0,1216.8L2063.5,1220.3L2067.1,1223.9L2070.7,1227.5L2074.2,1231.0L2077.8,1234.5L2081.4,1238.0L2084.9,1241.5L2088.5,1244.9L2092.1,1248.4L2095.7,1251.8L2099.3,1255.2L2103.0,1258.6L2106.6,1262.0L2110.3,1265.3L2114.0,1268.7L2117.7,1272.1L2121.5,1275.5" stroke="#37AD6B"/>
<path d="M301.0,514.7L302.7,519.4L304.3,524.1L306.0,528.9L307.6,533.6L309.3,538.3L310.9,543.1L312.5,547.8L314.1,552.6L315.7,557.3L317.3,562.1L318.9,566.8L320.4,571.6L322.0,576.3L323.5,581.1L325.1,585.8L326.6,590.6L328.1,595.4L329.6,600.1L331.1,604.9L332.6,609.7L334.1,614.4L335.6,619.2L337.0,624.0L338.5,628.8L339.9,633.5L341.4,638.3L342.8,643.1L344.2,647.9L345.6,652.7L347.1,657.5L348.5,662.3L349.9,667.1L351.3,671.9L352.6,676.7L354.0,681.5L355.4,686.3L356.8,691.1L358.1,695.9L359.5,700.7L360.8,705.5L362.2,710.3L363.5,715.1L364.8,719.9L366.2,724.7L367.5,729.5L368.8,734.4L370.1,739.2L371.4,744.0L372.7,748.8L374.0,753.6L375.3,758.5L376.6,763.3L377.9,768.1L379.2,772.9L380.5,777.8L381.8,782.6L383.0,787.4L384.3,792.2L385.6,797.1L386.8,801.9L388.1,806.7L389.4,811.6L390.6,816.4L391.9,821.3L393.1,826.1L394.4,830.9L395.7,835.8L396.9,840.6L398.2,845.4L399.4,850.3L400.6,855.1L401.9,860.0L403.1,864.8L404.4,869.6L405.6,874.5L406.9,879.3L408.1,884.2L409.4,889.0L410.6,893.9L411.9,898.7L413.1,903.6L414.3,908.4L415.6,913.2L416.8,918.1L418.1,922.9L419.3,927.8L420.6,932.6L421.8,937.5L423.1,942.3L424.3,947.2L425.6,952.0L426.9,956.9L428.1,961.7L429.4,966.5L430.6,971.4L431.9,976.2L433.2,981.1L434.5,985.9L435.7,990.8L437.0,995.6L438.3,1000.4L439.6,1005.3L440.9,1010.1L442.2,1015.0L443.5,1019.8L444.8,1024.6L446.2,1029.4L447.5,1034.3L448.8,1039.1L450.2,1043.9L451.5,1048.7L452.9,1053.6L454.2,1058.4L455.6,1063.2L457.0,1068.0L458.4,1072.8L459.8,1077.6L461.2,1082.4L462.6,1087.2L464.0,1092.0L465.5,1096.8L466.9,1101.6L468.4,1106.4L469.8,1111.1L471.3,1115.9L472.8,1120.7L474.3,1125.4L475.8,1130.2L477.4,1135.0L478.9,1139.7L480.5,1144.5L482.0,1149.2L483.6,1153.9L485.2,1158.7L486.8,1163.4L488.5,1168.1L490.1,1172.8L491.8,1177.5L493.4,1182.2L495.1,1186.9L496.8,1191.6L498.5,1196.3L500.3,1201.0L502.0,1205.6L503.8,1210.3L505.6,1215.0L507.4,1219.6L509.2,1224.2L511.1,1228.9L512.9,1233.5L514.8,1238.1L516.7,1242.7L518.6,1247.3L520.5,1251.9L522.5,1256.5L524.5,1261.1L526.5,1265.7L528.5,1270.2L530.5,1274.8L532.6,1279.3L534.7,1283.9L536.8,1288.4L538.9,1292.9L541.0,1297.4L543.2,1301.9L545.4,1306.4L547.6,1310.9L549.9,1315.3L552.1,1319.8L554.4,1324.2L556.7,1328.7L559.1,1333.1L561.5,1337.5L563.8,1341.9L566.3,1346.3L568.7,1350.7L571.2,1355.1L573.7,1359.4L576.3,1363.7L578.9,1368.0L581.6,1372.2L584.3,1376.4L587.1,1380.6L589.9,1384.7L592.8,1388.8L595.8,1392.8L598.8,1396.8L601.9,1400.7L605.1,1404.6L608.3,1408.4L611.6,1412.2L614.9,1415.9L618.3,1419.5L621.8,1423.2L625.3,1426.7L628.9,1430.2L632.5,1433.6L636.2,1437.0L640.0,1440.3L643.8,1443.5L647.6,1446.7L651.5,1449.9L655.4,1452.9L659.4,1455.9L663.5,1458.9L667.6,1461.7L671.7,1464.5L675.9,1467.3L680.1,1469.9L684.4,1472.5L688.7,1475.1L693.1,1477.5L697.5,1479.9L701.9,1482.2L706.4,1484.5L710.9,1486.7L715.5,1488.8L720.0,1490.8L724.7,1492.8L729.3,1494.7L734.0,1496.5L738.7,1498.3L743.4,1500.0L748.2,1501.6L753.0,1503.2L757.8,1504.6L762.6,1506.1L767.4,1507.4L772.3,1508.7L777.2,1509.9L782.1,1511.1L787.0,1512.1L791.9,1513.1L796.8,1514.1L801.8,1515.0L806.8,1515.8L811.7,1516.5L816.7,1517.2L821.7,1517.8L826.7,1518.4L831.6,1518.9L836.6,1519.3L841.6,1519.7L846.6,1520.0L851.6,1520.3L856.6,1520.5L861.6,1520.7L866.6,1520.8L871.6,1520.9L876.6,1521.0L881.6,1521.0L886.6,1521.0L891.6,1521.0L896.6,1521.0L901.6,1520.9L906.6,1520.8L911.6,1520.7L916.6,1520.5L921.6,1520.4L926.6,1520.2L931.6,1520.0L936.5,1519.8L941.5,1519.5L946.5,1519.2L951.5,1518.9L956.5,1518.6L961.4,1518.3L966.4,1517.9L971.4,1517.5L976.4,1517.1L981.3,1516.6L986.3,1516.2L991.3,1515.7L996.2,1515.2L1001.2,1514.7L1006.1,1514.1L1011.1,1513.6L1016.0,1513.0L1021.0,1512.4L1025.9,1511.7L1030.9,1511.1L1035.8,1510.4L1040.8,1509.7L1045.7,1509.0L1050.7,1508.3L1055.6,1507.5L1060.5,1506.7L1065.4,1505.9L1070.4,1505.1L1075.3,1504.3L1080.2,1503.4L1085.1,1502.6L1090.1,1501.7L1095.0,1500.7L1099.9,1499.8L1104.8,1498.9L1109.7,1497.9L1114.6,1496.9L1119.5,1495.9L1124.4,1494.9L1129.3,1493.8L1134.2,1492.8L1139.0,1491.7L1143.9,1490.6L1148.8,1489.5L1153.7,1488.4L1158.6,1487.2L1163.4,1486.0L1168.3,1484.9L1173.2,1483.7L1178.0,1482.4L1182.9,1481.2L1187.7,1480.0L1192.6,1478.7L1197.4,1477.4L1202.3,1476.1L1207.1,1474.8L1212.0,1473.5L1216.8,1472.1L1221.6,1470.8L1226.4,1469.4L1231.3,1468.0L1236.1,1466.6L1240.9,1465.1L1245.7,1463.7L1250.5,1462.3L1255.3,1460.8L1260.1,1459.3L1264.9,1457.8L1269.7,1456.3L1274.5,1454.8L1279.3,1453.2L1284.0,1451.7L1288.8,1450.1L1293.6,1448.5L1298.3,1446.9L1303.1,1445.3L1307.8,1443.6L1312.5,1442.0L1317.3,1440.3L1322.0,1438.5L1326.7,1436.8L1331.3,1435.0L1336.0,1433.2L1340.7,1431.4L1345.3,1429.5L1349.9,1427.7L1354.5,1425.7L1359.1,1423.8L1363.7,1421.8L1368.2,1419.8L1372.7,1417.7L1377.2,1415.6L1381.7,1413.4L1386.1,1411.3L1390.6,1409.0L1395.0,1406.7L1399.3,1404.4L1403.7,1402.1L1408.0,1399.7L1412.3,1397.2L1416.6,1394.7L1420.8,1392.1L1425.0,1389.5L1429.1,1386.8L1433.3,1384.1L1437.4,1381.3L1441.4,1378.5L1445.4,1375.6L1449.4,1372.6L1453.4,1369.6L1457.3,1366.6L1461.2,1363.4L1465.0,1360.2L1468.8,1356.9L1472.5,1353.6L1476.2,1350.2L1479.9,1346.7L1483.5,1343.2L1487.1,1339.6L1490.6,1336.0L1494.2,1332.4L1497.7,1328.7L1501.2,1325.0L1504.6,1321.2L1508.0,1317.4L1511.5,1313.7L1514.9,1309.9L1518.3,1306.1L1521.7,1302.3L1525.0,1298.5L1528.4,1294.7L1531.8,1290.9L1535.2,1287.1L1538.5,1283.4L1541.9,1279.7L1545.3,1276.0L1548.7,1272.3L1552.1,1268.7L1555.5,1265.0L1558.9,1261.4L1562.3,1257.8L1565.7,1254.2L1569.2,1250.7L1572.6,1247.1L1576.0,1243.5L1579.5,1240.0L1582.9,1236.4L1586.4,1232.9L1589.8,1229.4L1593.3,1225.8L1596.7,1222.3L1600.2,1218.7L1603.7,1215.2L1607.2,1211.6L1610.7,1208.0L1614.2,1204.4L1617.7,1200.9L1621.2,1197.3L1624.7,1193.7L1628.2,1190.1L1631.7,1186.5L1635.2,1182.9L1638.7,1179.3L1642.2,1175.7L1645.7,1172.1L1649.2,1168.5L1652.7,1164.9L1656.2,1161.3L1659.7,1157.7L1663.2,1154.1L1666.6,1150.5L1670.1,1146.9L1673.6,1143.3L1677.1,1139.8L1680.6,1136.2L1684.0,1132.6L1687.5,1129.1L1691.0,1125.5L1694.6,1122.0L1698.1,1118.5L1701.6,1115.0L1705.2,1111.5L1708.8,1108.1L1712.5,1104.6L1716.1,1101.2L1719.8,1097.8L1723.5,1094.5L1727.3,1091.2L1731.1,1087.9L1735.0,1084.6L1738.9,1081.5L1742.9,1078.4L1747.0,1075.6L1751.2,1072.9L1755.5,1070.5L1760.0,1068.3L1764.5,1066.5L1769.3,1064.9L1774.1,1063.6L1779.0,1062.5L1784.0,1061.6L1789.0,1060.7L1794.0,1059.9L1798.9,1059.1L1803.9,1058.3L1808.9,1057.6L1813.8,1057.1L1818.8,1056.9L1823.7,1056.8L1828.7,1056.9L1833.7,1057.2L1838.7,1057.6L1843.6,1058.1L1848.6,1058.7L1853.6,1059.3L1858.6,1060.0L1863.5,1060.7L1868.5,1061.4L1873.5,1062.0L1878.4,1062.6L1883.4,1063.2L1888.4,1063.6L1893.3,1064.0L1898.3,1064.2L1903.3,1064.2L1908.2,1064.2L1913.2,1063.9L1918.2,1063.5L1923.2,1063.0L1928.2,1062.5L1933.1,1061.9L1938.1,1061.2L1943.1,1060.6L1948.1,1060.0L1953.1,1059.5L1958.1,1059.1L1963.1,1058.8L1968.0,1058.6L1973.0,1058.4L1978.0,1058.2L1983.0,1058.0L1988.0,1057.9L1993.0,1057.6L1998.0,1057.3" stroke="#B177DE"/>
</g>
<g shape-rendering="crispEdges" fill="#000">
<rect x="299" y="60" width="4" height="1470"/>
<rect x="2120" y="60" width="3" height="1470"/>
<rect x="299" y="60" width="1824" height="3"/>
<rect x="299" y="1526" width="1824" height="4"/>
<rect x="272" y="1526" width="27" height="4"/>
<rect x="287" y="1445" width="12" height="3"/>
<rect x="272" y="1364" width="27" height="3"/>
<rect x="287" y="1282" width="12" height="3"/>
<rect x="272" y="1201" width="27" height="3"/>
<rect x="287" y="1119" width="12" height="3"/>
<rect x="272" y="1038" width="27" height="3"/>
<rect x="287" y="956" width="12" height="3"/>
<rect x="272" y="875" width="27" height="3"/>
<rect x="287" y="793" width="12" height="3"/>
<rect x="272" y="712" width="27" height="3"/>
<rect x="287" y="630" width="12" height="3"/>
<rect x="272" y="549" width="27" height="3"/>
<rect x="287" y="467" width="12" height="3"/>
<rect x="272" y="386" width="27" height="3"/>
<rect x="287" y="304" width="12" height="3"/>
<rect x="272" y="223" width="27" height="3"/>
<rect x="287" y="141" width="12" height="3"/>
<rect x="272" y="60" width="27" height="3"/>
<rect x="299" y="1530" width="4" height="27"/>
<rect x="430" y="1530" width="3" height="12"/>
<rect x="560" y="1530" width="3" height="27"/>
<rect x="690" y="1530" width="3" height="12"/>
<rect x="820" y="1530" width="3" height="27"/>
<rect x="950" y="1530" width="3" height="12"/>
<rect x="1080" y="1530" width="3" height="27"/>
<rect x="1210" y="1530" width="3" height="12"/>
<rect x="1340" y="1530" width="3" height="27"/>
<rect x="1470" y="1530" width="3" height="12"/>
<rect x="1600" y="1530" width="3" height="27"/>
<rect x="1730" y="1530" width="3" height="12"/>
<rect x="1860" y="1530" width="3" height="27"/>
<rect x="1990" y="1530" width="3" height="12"/>
<rect x="2120" y="1530" width="3" height="27"/>
</g>
<g font-size="61.7">
<text transform="translate(252.6,1546.5) scale(1,1.040)" text-anchor="end">0</text>
<text transform="translate(252.6,1383.6) scale(1,1.040)" text-anchor="end">200</text>
<text transform="translate(252.6,1220.6) scale(1,1.040)" text-anchor="end">400</text>
<text transform="translate(252.6,1057.7) scale(1,1.040)" text-anchor="end">600</text>
<text transform="translate(252.6,894.7) scale(1,1.040)" text-anchor="end">800</text>
<text transform="translate(252.6,731.8) scale(1,1.040)" text-anchor="end">1000</text>
<text transform="translate(252.6,568.8) scale(1,1.040)" text-anchor="end">1200</text>
<text transform="translate(252.6,405.9) scale(1,1.040)" text-anchor="end">1400</text>
<text transform="translate(252.6,242.9) scale(1,1.040)" text-anchor="end">1600</text>
<text transform="translate(252.6,80.0) scale(1,1.040)" text-anchor="end">1800</text>
<text transform="translate(301.0,1626) scale(1,1.040)" text-anchor="middle">0.0</text>
<text transform="translate(561.1,1626) scale(1,1.040)" text-anchor="middle">0.1</text>
<text transform="translate(821.1,1626) scale(1,1.040)" text-anchor="middle">0.2</text>
<text transform="translate(1081.2,1626) scale(1,1.040)" text-anchor="middle">0.3</text>
<text transform="translate(1341.3,1626) scale(1,1.040)" text-anchor="middle">0.4</text>
<text transform="translate(1601.4,1626) scale(1,1.040)" text-anchor="middle">0.5</text>
<text transform="translate(1861.4,1626) scale(1,1.040)" text-anchor="middle">0.6</text>
<text transform="translate(2121.5,1626) scale(1,1.040)" text-anchor="middle">0.7</text>
</g>
<text transform="translate(1212.4,1743) scale(1,1.020)" font-size="76.7" text-anchor="middle">Velocity (m/s)</text>
<text transform="translate(83.4,793) rotate(-90) scale(1,1.020)" font-size="76.55" text-anchor="middle">Friction force (N)</text>
<g shape-rendering="crispEdges">
<rect x="1358" y="70" width="752" height="482" fill="#000"/>
<rect x="1360" y="72" width="749" height="478" fill="#fff"/>
</g>
<g font-size="76.35">
<line x1="1369.5" y1="123.50" x2="1539.5" y2="123.50" stroke="#515151" stroke-width="7" stroke-linecap="round"/>
<text transform="translate(1560.5,150.0) scale(1,1.020)">0 kg</text>
<line x1="1369.5" y1="217.35" x2="1539.5" y2="217.35" stroke="#F14040" stroke-width="7" stroke-linecap="round"/>
<text transform="translate(1560.5,243.8) scale(1,1.020)">10 kg</text>
<line x1="1369.5" y1="311.20" x2="1539.5" y2="311.20" stroke="#1A6FDF" stroke-width="7" stroke-linecap="round"/>
<text transform="translate(1560.5,337.6) scale(1,1.020)">30 kg</text>
<line x1="1369.5" y1="405.05" x2="1539.5" y2="405.05" stroke="#37AD6B" stroke-width="7" stroke-linecap="round"/>
<text transform="translate(1560.5,431.4) scale(1,1.020)">50 kg</text>
<line x1="1369.5" y1="498.90" x2="1539.5" y2="498.90" stroke="#B177DE" stroke-width="7" stroke-linecap="round"/>
<text transform="translate(1560.5,525.2) scale(1,1.020)">30 kg, no orifice</text>
</g>
</svg></body></html>
